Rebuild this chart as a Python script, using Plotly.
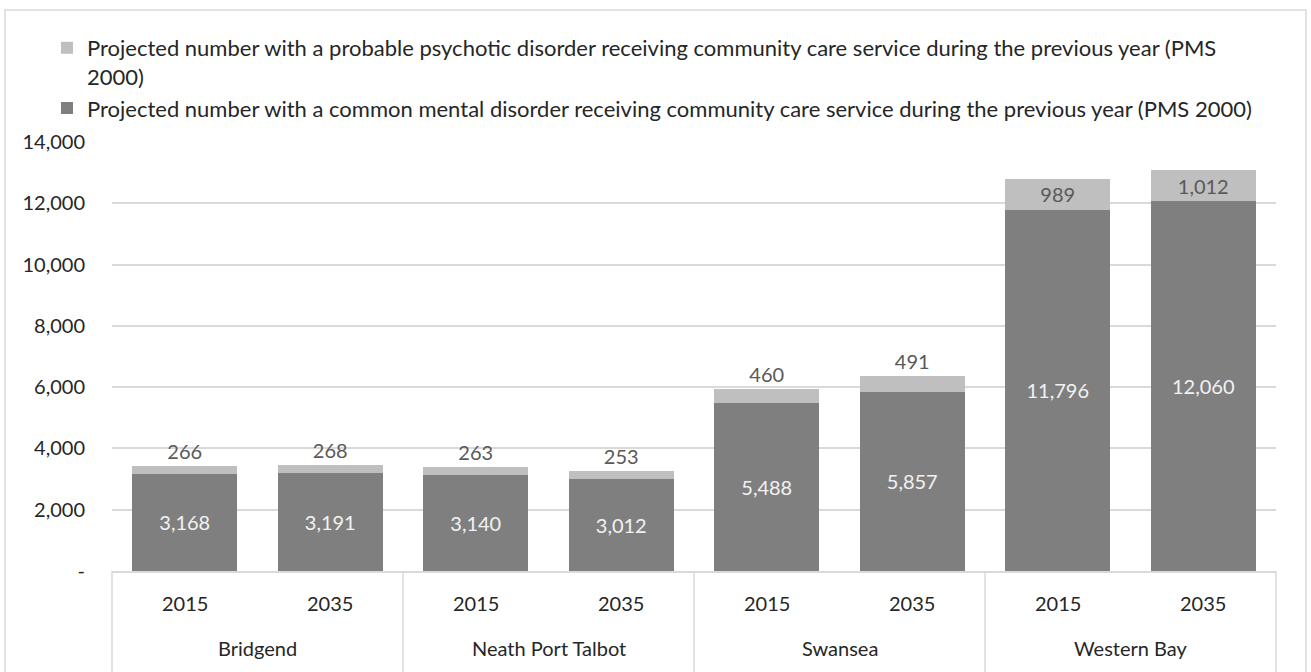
import plotly.graph_objects as go

areas = ["Bridgend", "Bridgend", "Neath Port Talbot", "Neath Port Talbot",
         "Swansea", "Swansea", "Western Bay", "Western Bay"]
years = ["2015", "2035", "2015", "2035", "2015", "2035", "2015", "2035"]
common = [3168, 3191, 3140, 3012, 5488, 5857, 11796, 12060]
psychotic = [266, 268, 263, 253, 460, 491, 989, 1012]
y_ticks = [0, 2000, 4000, 6000, 8000, 10000, 12000, 14000]

name_psy = ("Projected number with a probable psychotic disorder receiving community care service during the previous year (PMS<br>2000)")
name_com = ("Projected number with a common mental disorder receiving community care service during the previous year (PMS 2000)")

FONT = "Lato"
W, H = 1311, 672
L, R, T, B = 112, 35, 142, 101
pw, ph = W - L - R, H - T - B
GRID = "#D9D9D9"
TXT = "#262626"


def px_x(p):
    return (p - L) / pw


def px_y(p):
    return (H - B - p) / ph


psy_pos = ["outside" if v < 900 else "inside" for v in psychotic]

fig = go.Figure()
fig.add_trace(go.Bar(
    x=[areas, years], y=common, name=name_com,
    marker=dict(color="#7F7F7F", line=dict(width=0)),
    texttemplate="%{y:,}", textposition="inside", insidetextanchor="middle",
    insidetextfont=dict(family=FONT, size=20, color="#F2F2F2"),
    constraintext="none", hoverinfo="skip",
))
fig.add_trace(go.Bar(
    x=[areas, years], y=psychotic, name=name_psy,
    marker=dict(color="#BFBFBF", line=dict(width=0)),
    texttemplate="%{y:,}", textposition=psy_pos, insidetextanchor="middle",
    insidetextfont=dict(family=FONT, size=20, color="#595959"),
    outsidetextfont=dict(family=FONT, size=20, color="#595959"),
    constraintext="none", cliponaxis=False, hoverinfo="skip",
))

n = len(years)
annotations = []
shapes = []
# year labels
for i, yr in enumerate(years):
    annotations.append(dict(
        x=(i + 0.5) / n, y=px_y(603), xref="paper", yref="paper",
        text=yr, showarrow=False, xanchor="center", yanchor="middle",
        font=dict(family=FONT, size=20, color=TXT)))
# group labels and dividers
groups = []
for i, a in enumerate(areas):
    if not groups or groups[-1][0] != a:
        groups.append([a, i, i])
    else:
        groups[-1][2] = i
for a, s, e in groups:
    annotations.append(dict(
        x=(s + e + 1) / 2 / n, y=px_y(648), xref="paper", yref="paper",
        text=a, showarrow=False, xanchor="center", yanchor="middle",
        font=dict(family=FONT, size=20, color=TXT)))
bounds = [g[1] for g in groups] + [groups[-1][2] + 1]
for b in bounds:
    shapes.append(dict(type="line", xref="paper", yref="paper",
                       x0=b / n, x1=b / n, y0=0, y1=px_y(690),
                       line=dict(color=GRID, width=1.5)))
# outer chart frame
shapes.append(dict(type="rect", xref="paper", yref="paper",
                   x0=px_x(5), x1=px_x(1306), y0=px_y(700), y1=px_y(10),
                   line=dict(color=GRID, width=1.5), fillcolor="rgba(0,0,0,0)",
                   layer="below"))

fig.update_layout(
    width=W, height=H,
    margin=dict(l=L, r=R, t=T, b=B, autoexpand=False),
    barmode="stack", bargap=0.28,
    plot_bgcolor="white", paper_bgcolor="white",
    font=dict(family=FONT, size=20, color=TXT),
    showlegend=True,
    legend=dict(
        orientation="v", x=px_x(47), y=px_y(27), xanchor="left", yanchor="top",
        valign="top", font=dict(family=FONT, size=22, color=TXT),
        tracegroupgap=0, itemclick=False, bgcolor="rgba(0,0,0,0)",
    ),
    yaxis=dict(
        range=[0, 14000], tickvals=y_ticks,
        ticktext=["-" if v == 0 else f"{v:,}" for v in y_ticks],
        showgrid=True, gridcolor=GRID, gridwidth=1.5,
        zeroline=False, showline=False, ticks="",
        ticklabelstandoff=26, automargin=False,
        tickfont=dict(family=FONT, size=20, color=TXT),
    ),
    xaxis=dict(
        type="multicategory", showline=True, linecolor=GRID, linewidth=1.5,
        showdividers=False, showticklabels=False, ticks="", automargin=False,
    ),
    annotations=annotations,
    shapes=shapes,
)

fig.write_html("out.html", config={"displayModeBar": False},
               post_script="document.body.style.margin='0px';")
